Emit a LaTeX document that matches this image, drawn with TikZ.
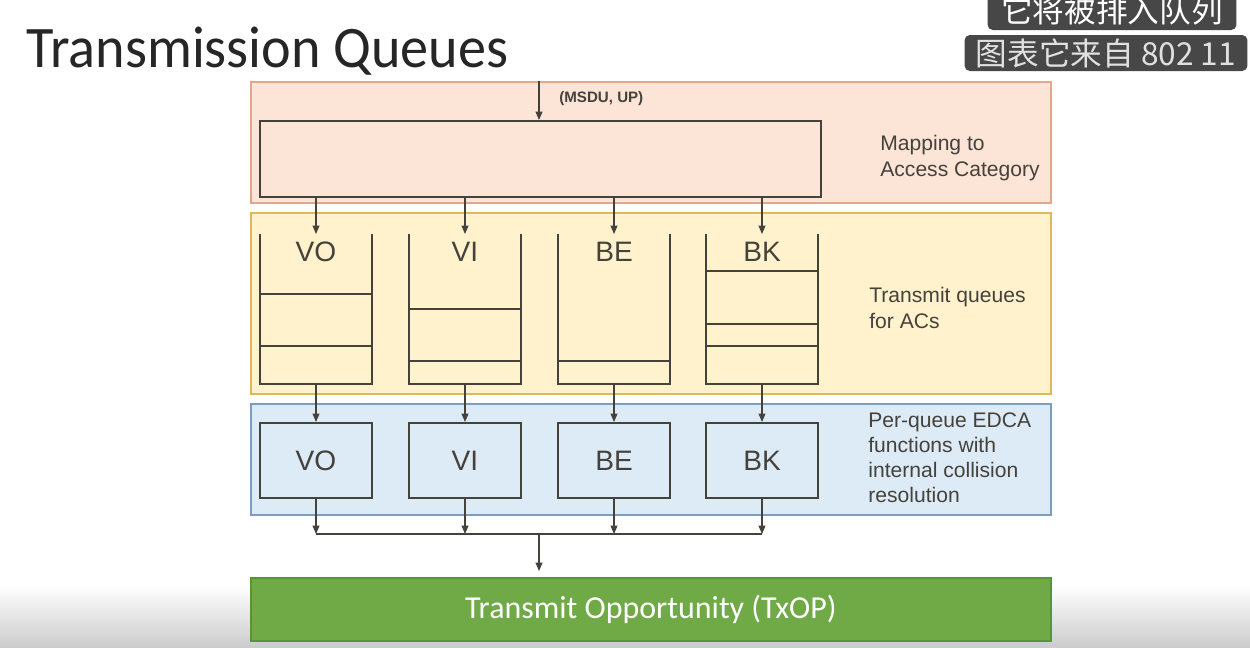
\documentclass[tikz,border=0pt]{standalone}
\usepackage{fontspec}
\setmainfont{Liberation Sans}
\newfontfamily\calibri{Carlito}
\newfontfamily\cjk{Noto Sans CJK SC}
\usetikzlibrary{arrows.meta,positioning}
\definecolor{mapfill}{HTML}{FCE4D6}
\definecolor{mapline}{HTML}{E3A58C}
\definecolor{queuefill}{HTML}{FFF2CC}
\definecolor{queueline}{HTML}{E2B65C}
\definecolor{edcafill}{HTML}{DDEBF7}
\definecolor{edcaline}{HTML}{7C9CC0}
\definecolor{txopfill}{HTML}{6FAA46}
\definecolor{txopline}{HTML}{5A9438}
\definecolor{ink}{HTML}{45423C}
\definecolor{subbox}{HTML}{474747}
\newcommand{\fsz}[2]{\fontsize{#1pt}{#2pt}\selectfont}

\begin{document}
\begin{tikzpicture}[x=0.02cm,y=-0.02cm]
	\tikzset{panel/.style={draw,line width=1.1pt,minimum width=16cm,anchor=north west,inner sep=0pt}}
	\tikzset{wall/.style={draw=ink,line width=1.1pt}}
	\tikzset{box/.style={wall,minimum width=2.24cm,minimum height=1.5cm,inner sep=0pt,anchor=north,font=\fsz{16}{16}\color{ink}}}
	\tikzset{queue/.style={minimum width=2.24cm,minimum height=2.98cm,inner sep=0pt,anchor=north}}
	\tikzset{link/.style={draw=ink,line width=0.6pt,-{Triangle[length=0.17cm,width=0.14cm]}}}
	\tikzset{note/.style={anchor=west,align=left,inner sep=0pt,font=\fsz{12}{14.3}\color{ink}}}
	\tikzset{subtitle/.style={fill=subbox,rounded corners=3pt,inner sep=0pt,font=\cjk\fsz{18}{18}}}
	\useasboundingbox (0,0) rectangle (1250,647);
	\shade[top color=white,bottom color=black!20] (0,585) rectangle (1250,647);
	\node[anchor=base west,inner sep=0pt,font=\calibri\fsz{33.5}{33.5},text=black!85] (title) at (26,67) {\scalebox{0.955}[1]{Transmission Queues}};
	\node[subtitle,text=white,minimum width=4.98cm,minimum height=0.8cm] (subA) at (1112,10) {它将被排入队列};
	\node[subtitle,text=black!12,minimum width=5.66cm,minimum height=0.72cm] (subB) at (1106,53) {图表它来自 802 11};
	\node[panel,draw=mapline,fill=mapfill,minimum height=2.42cm] (mapPanel) at (250,81) {};
	\node[panel,draw=queueline,fill=queuefill,minimum height=3.62cm] (queuePanel) at (250,212) {};
	\node[panel,draw=edcaline,fill=edcafill,minimum height=2.22cm] (edcaPanel) at (250,403) {};
	\node[panel,draw=txopline,fill=txopfill,minimum height=1.26cm,font=\calibri\fsz{18.2}{18.2}\color{white}] (txop) at (250,577) {Transmit Opportunity (TxOP)};
	\node[wall,minimum width=11.22cm,minimum height=1.52cm,anchor=north west] (map) at (259,120) {};
	\coordinate (msdu) at (539,81);
	\draw[link] (msdu) -- (msdu |- map.north);
	\node[anchor=west,inner sep=0pt,font=\bfseries\fsz{8.6}{8.6}\color{ink}] (msduLabel) at (559,99) {(MSDU, UP)};
	\node[note] (mapNote) at (880,158) {Mapping to\\Access Category};
	\node[note] (queueNote) at (869,308) {Transmit queues\\for ACs};
	\node[note] (edcaNote) at (868,458) {Per-queue EDCA\\functions with\\internal collision\\resolution};
	\foreach \q/\cx in {VO/316,VI/465,BE/614,BK/762} {
		\node[queue] (q\q) at (\cx,234) {};
		\node[font=\fsz{16}{16}\color{ink}] (l\q) at ([yshift=-0.36cm]q\q.north) {\q};
		\draw[wall] (q\q.north west) |- (q\q.south east) -- (q\q.north east);
		\node[box] (e\q) at (\cx,422) {\q};
	}
	\foreach \q/\d in {VO/60,VO/112,VI/75,VI/127,BE/127,BK/37,BK/90,BK/112}
		\draw[wall] ([yshift=-\d*0.02cm]q\q.north west) -- ([yshift=-\d*0.02cm]q\q.north east);
	\coordinate (join) at (539,534);
	\foreach \q in {VO,VI,BE,BK} {
		\draw[link] (map.south -| q\q.north) -- (q\q.north);
		\draw[link] (q\q.south) -- (e\q.north);
		\draw[link] (e\q.south) -- (e\q.south |- join);
	}
	\draw[draw=ink,line width=0.6pt] (eVO.south |- join) -- (eBK.south |- join);
	\draw[link,shorten >=0.12cm] (join) -- (join |- txop.north);
\end{tikzpicture}
\end{document}
